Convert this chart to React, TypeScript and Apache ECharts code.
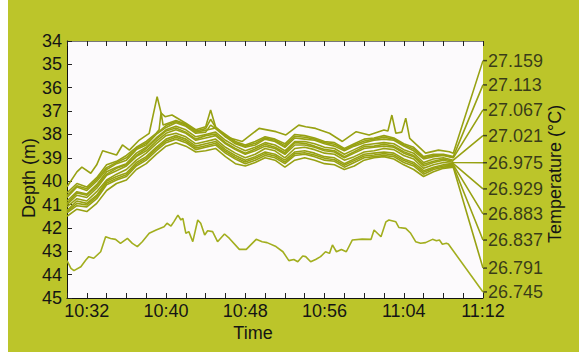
import React, { useEffect, useRef } from 'react';
import * as echarts from 'echarts';

// minutes after 10:30
const times = [0,1,2,3,4,5,6,7,8,9,10,11,12,13,14,15,16,17,18,19,20,21,22,23,24,25,26,27,28,29,30,31,32,33,34,35,36,37,38,39];

const timeLabels = ['10:32','10:40','10:48','10:56','11:04','11:12'];
const timeLabelPos = [2,10,18,26,34,42];

const tempLabels = ['27.159','27.113','27.067','27.021','26.975','26.929','26.883','26.837','26.791','26.745'];
const labelDepths = [34.84, 35.88, 36.95, 38.05, 39.21, 40.33, 41.4, 42.52, 43.72, 44.74];

// 27.159 isotherm (time, depth)
const iso27159 = [[0,40.24],[1,39.6],[1.5,39.4],[2.4,39.66],[3,39.3],[3.6,38.7],[5,38.88],[5.6,38.45],[6.3,38.67],[7.3,38.24],[8.3,37.95],[9.1,36.38],[9.5,37.08],[9.9,37.24],[10.6,37.17],[12,37.52],[13,37.8],[14,37.67],[14.5,36.95],[15,37.67],[16,38.1],[17.7,38.3],[19.4,37.74],[21.1,37.88],[22.1,38.02],[23.4,37.6],[24.1,37.67],[25.1,37.74],[26.5,37.95],[27.8,38.3],[29.2,37.88],[30.5,38.02],[32,37.81],[32.4,37.85],[32.8,37.17],[33.2,37.95],[33.8,37.9],[34.2,37.3],[34.6,38.17],[36.2,38.8],[37.5,38.67],[38.6,38.74],[39,38.8]];

const iso27113 = [40.5,40.1,40.25,39.85,39.3,39.15,38.9,38.55,38.3,37.95,37.55,37.4,37.55,37.85,37.75,37.7,38.0,38.3,38.45,38.3,38.1,38.2,38.4,38.0,38.05,38.15,38.3,38.35,38.6,38.4,38.2,38.15,38.05,38.15,38.4,38.55,38.95,38.85,38.85,38.95];
const iso27113Spikes = [[9.3,37.8],[9.5,37.05],[9.7,37.6],[14.5,37.35]];
const iso27067 = [40.7,40.25,40.4,40.0,39.5,39.25,39.1,38.65,38.45,38.0,37.7,37.5,37.65,37.95,37.9,37.75,38.1,38.4,38.55,38.45,38.2,38.3,38.55,38.15,38.2,38.25,38.4,38.5,38.7,38.5,38.35,38.25,38.2,38.25,38.5,38.7,39.05,38.95,38.9,39.0];
const iso27067Spikes = [[14.5,37.6]];
const iso27021 = [40.85,40.45,40.55,40.15,39.6,39.4,39.25,38.8,38.55,38.15,37.8,37.65,37.8,38.1,38.0,37.9,38.25,38.5,38.7,38.55,38.35,38.45,38.7,38.3,38.3,38.4,38.55,38.6,38.85,38.65,38.45,38.4,38.35,38.4,38.65,38.8,39.2,39.05,39.0,39.1];
const iso26975 = [41.0,40.6,40.7,40.3,39.75,39.55,39.35,38.95,38.7,38.3,37.95,37.8,37.95,38.25,38.15,38.05,38.4,38.65,38.85,38.7,38.5,38.6,38.85,38.45,38.45,38.55,38.7,38.75,39.0,38.8,38.6,38.55,38.5,38.55,38.8,38.95,39.35,39.2,39.1,39.2];
const iso26929 = [41.1,40.75,40.85,40.45,39.95,39.7,39.5,39.1,38.8,38.4,38.05,37.95,38.1,38.4,38.3,38.2,38.55,38.8,39.0,38.85,38.6,38.7,39.0,38.6,38.55,38.65,38.8,38.85,39.1,38.95,38.75,38.7,38.6,38.65,38.9,39.05,39.45,39.3,39.2,39.25];
const iso26883 = [41.25,40.85,40.95,40.6,40.0,39.8,39.65,39.2,38.95,38.55,38.2,38.05,38.2,38.5,38.4,38.3,38.65,38.9,39.1,38.95,38.75,38.85,39.1,38.75,38.7,38.8,38.95,39.0,39.25,39.05,38.85,38.8,38.75,38.8,39.05,39.2,39.55,39.4,39.3,39.3];
const iso26837 = [41.35,41.05,41.1,40.75,40.15,39.95,39.8,39.35,39.1,38.7,38.35,38.2,38.35,38.65,38.55,38.45,38.8,39.05,39.25,39.1,38.9,39.0,39.25,38.9,38.85,38.95,39.1,39.15,39.4,39.2,39.0,38.95,38.9,38.95,39.2,39.35,39.7,39.5,39.4,39.35];
const iso26791 = [41.5,41.2,41.3,40.95,40.4,40.1,39.95,39.5,39.25,38.85,38.5,38.35,38.5,38.75,38.7,38.6,38.95,39.25,39.35,39.2,39.0,39.1,39.4,39.1,39.0,39.1,39.25,39.3,39.5,39.35,39.1,39.0,38.95,39.05,39.3,39.5,39.8,39.6,39.45,39.4];

// unlabeled isotherms inside the bundle
const isoExtraA = [40.95,40.5,40.6,40.2,39.7,39.45,39.3,38.9,38.6,38.2,37.85,37.72,37.9,38.2,38.05,37.98,38.35,38.6,38.8,38.62,38.42,38.55,38.78,38.35,38.38,38.5,38.64,38.7,38.95,38.74,38.52,38.5,38.42,38.5,38.74,38.9,39.28,39.15,39.05,39.15];
const isoExtraB = [41.3,40.95,41.02,40.66,40.08,39.88,39.72,39.28,39.02,38.62,38.28,38.12,38.28,38.58,38.48,38.38,38.72,38.98,39.18,39.02,38.82,38.92,39.18,38.82,38.78,38.88,39.02,39.08,39.32,39.12,38.92,38.88,38.82,38.88,39.12,39.28,39.62,39.45,39.35,39.33];
const isoExtraC = [40.62,40.2,40.32,39.92,39.42,39.2,39.0,38.6,38.38,37.98,37.62,37.45,37.6,37.9,37.82,37.72,38.05,38.35,38.5,38.38,38.15,38.25,38.48,38.08,38.12,38.2,38.35,38.42,38.65,38.45,38.28,38.2,38.12,38.2,38.45,38.62,39.0,38.9,38.88,38.98];

// 26.745 isotherm (time, depth)
const iso26745 = [[0,43.4],[0.4,43.73],[0.7,43.83],[1.4,43.66],[1.9,43.37],[2.2,43.23],[2.7,43.3],[3.4,43.02],[3.9,42.38],[4.4,42.45],[4.9,42.49],[5.4,42.66],[6.1,42.45],[6.6,42.66],[7.1,42.8],[7.6,42.59],[8.3,42.23],[9.0,42.09],[9.8,41.95],[10.1,41.8],[10.5,41.92],[10.8,41.73],[11.2,41.45],[11.5,41.66],[11.7,41.59],[12.0,42.23],[12.3,42.16],[12.7,42.59],[13.2,41.66],[13.5,41.8],[13.9,42.3],[14.2,42.12],[14.7,42.16],[15.2,42.59],[15.9,42.26],[16.4,42.45],[17.4,42.92],[18.1,42.92],[19.1,42.49],[19.7,42.59],[20.2,42.63],[21.1,42.8],[21.8,43.02],[22.4,43.4],[22.9,43.35],[23.3,43.45],[23.8,43.2],[24.1,43.23],[24.6,43.45],[25.1,43.35],[25.6,43.23],[26.1,43.02],[26.5,43.09],[26.8,42.73],[27.2,43.02],[27.7,42.92],[28.2,43.02],[28.8,42.52],[29.8,42.48],[30.7,42.49],[31.0,42.09],[31.7,42.38],[32.2,41.74],[32.5,41.66],[33.2,41.74],[33.5,41.98],[34.2,42.02],[34.7,42.23],[35.2,42.59],[35.7,42.66],[36.2,42.63],[36.9,42.49],[37.3,42.55],[37.6,42.52],[37.9,42.7],[38.3,42.66],[38.5,42.69]];

const FONT = '"Liberation Sans", Arial, sans-serif';
const LINE = '#97a112';
const LINE_LIGHT = '#a2ae1e';

function gridded(vals: number[], spikes: number[][] = []) {
  const pts = times.map((t, i) => [t, vals[i]]).concat(spikes);
  pts.sort((a, b) => a[0] - b[0]);
  return pts;
}

export default function App() {
  const ref = useRef<HTMLDivElement>(null);
  useEffect(() => {
    const chart = echarts.init(ref.current!, null, { renderer: 'svg' });

    const labeled: number[][][] = [
      iso27159.map(p => p.slice()),
      gridded(iso27113, iso27113Spikes),
      gridded(iso27067, iso27067Spikes),
      gridded(iso27021),
      gridded(iso26975),
      gridded(iso26929),
      gridded(iso26883),
      gridded(iso26837),
      gridded(iso26791),
      iso26745.map(p => p.slice()),
    ];
    labeled.forEach((d, k) => d.push([42, labelDepths[k]]));

    const lineSeries = (data: number[][], name: string, color = LINE) => ({
      type: 'line', name, data, showSymbol: false, symbol: 'none',
      lineStyle: { color, width: 1.6 }, silent: true, clip: false,
    });

    const series: any[] = [
      lineSeries(gridded(isoExtraA), 'extraA'),
      lineSeries(gridded(isoExtraB), 'extraB'),
      lineSeries(gridded(isoExtraC), 'extraC'),
      ...labeled.map((d, k) => lineSeries(d, tempLabels[k], k === 9 ? LINE_LIGHT : LINE)),
      {
        type: 'scatter',
        data: labelDepths.map((d, k) => ({ value: [42, d], name: tempLabels[k] })),
        symbol: 'rect', symbolSize: [4, 1.5], symbolOffset: [2, 0],
        itemStyle: { color: '#222' }, clip: false, silent: true,
        label: {
          show: true, position: 'right', distance: 1,
          formatter: (p: any) => p.name,
          fontSize: 18, fontFamily: FONT, color: '#151515',
        },
      },
    ];

    const xCommon = {
      type: 'value', min: 0, max: 42, interval: 2,
      splitLine: { show: false },
      axisTick: { show: true, inside: true, length: 5, lineStyle: { color: '#222' } },
    };

    chart.setOption({
      animation: false,
      grid: { left: 59, right: 96, top: 41, bottom: 54, show: true, backgroundColor: '#fcfafc', borderWidth: 0 },
      xAxis: [
        {
          ...xCommon, position: 'bottom',
          axisLine: { show: true, onZero: false, lineStyle: { color: '#111', width: 1 } },
          axisLabel: {
            fontSize: 18, fontFamily: FONT, color: '#151515', margin: 4,
            formatter: (v: number) => { const i = timeLabelPos.indexOf(v); return i >= 0 ? timeLabels[i] : ''; },
          },
        },
        {
          ...xCommon, position: 'top',
          axisLine: { show: true, onZero: false, lineStyle: { color: '#777', width: 1 } },
          axisLabel: { show: false },
        },
      ],
      yAxis: {
        type: 'value', inverse: true, min: 34, max: 45, interval: 1,
        splitLine: { show: false },
        axisLine: { show: true, onZero: false, lineStyle: { color: '#111', width: 1 } },
        axisTick: { show: true, inside: true, length: 5, lineStyle: { color: '#222' } },
        axisLabel: { fontSize: 18, fontFamily: FONT, color: '#151515', margin: 5 },
      },
      graphic: [
        { type: 'text', x: 21, y: 178, rotation: Math.PI / 2,
          style: { text: 'Depth (m)', fontSize: 18, fontFamily: FONT, fill: '#151515', align: 'center', verticalAlign: 'middle', textAlign: 'center', textVerticalAlign: 'middle' } },
        { type: 'text', x: 547, y: 174, rotation: Math.PI / 2,
          style: { text: 'Temperature (°C)', fontSize: 18, fontFamily: FONT, fill: '#151515', align: 'center', verticalAlign: 'middle', textAlign: 'center', textVerticalAlign: 'middle' } },
        { type: 'text', x: 245, y: 333,
          style: { text: 'Time', fontSize: 18, fontFamily: FONT, fill: '#151515', align: 'center', verticalAlign: 'middle', textAlign: 'center', textVerticalAlign: 'middle' } },
      ],
      series,
    });
    return () => chart.dispose();
  }, []);
  return <div ref={ref} style={{ position: 'absolute', left: 8, top: 0, width: 571, height: 352, background: '#bcc52a' }} />;
}
